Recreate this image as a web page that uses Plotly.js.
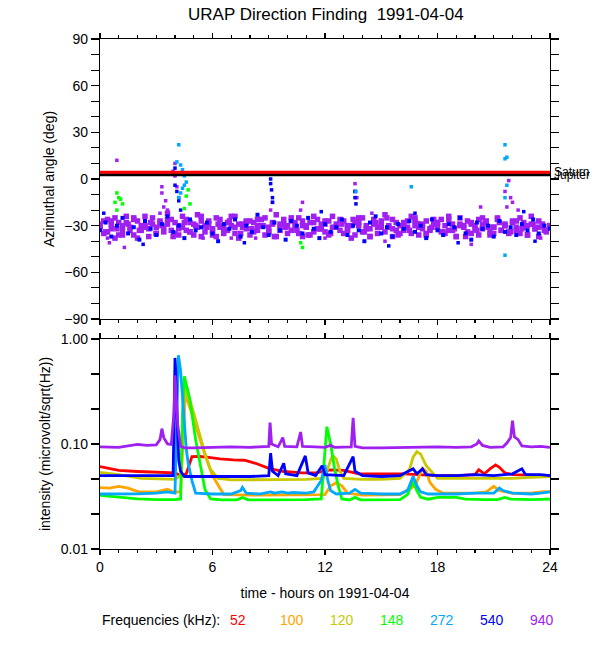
<!DOCTYPE html>
<html>
<head>
<meta charset="utf-8">
<script src="https://cdn.plot.ly/plotly-3.0.1.min.js"></script>
<style>html,body{margin:0;padding:0;background:#fff;}#chart{width:600px;height:650px;}</style>
</head>
<body>
<div id="chart"></div>
<script>
// ---------- Frequencies / colours ----------
const freqLabels = ['52', '100', '120', '148', '272', '540', '940'];
const freqColors = ['#FF0000', '#FFA500', '#C8C800', '#00FF00', '#00A8FF', '#0000FF', '#A020F0'];

// ---------- Top panel: azimuthal angle (deg) ----------
const tP = [0,0.2,0.4,0.6,0.8,1,1.2,1.4,1.6,1.8,2,2.2,2.4,2.6,2.8,3,3.2,3.4,3.6,3.8,
  4,4.2,4.4,4.6,4.8,5,5.2,5.4,5.6,5.8,6,6.2,6.4,6.6,6.8,7,7.2,7.4,7.6,7.8,
  8,8.2,8.4,8.6,8.8,9,9.2,9.4,9.6,9.8,10,10.2,10.4,10.6,10.8,11,11.2,11.4,11.6,11.8,
  12,12.2,12.4,12.6,12.8,13,13.2,13.4,13.6,13.8,14,14.2,14.4,14.6,14.8,15,15.2,15.4,15.6,15.8,
  16,16.2,16.4,16.6,16.8,17,17.2,17.4,17.6,17.8,18,18.2,18.4,18.6,18.8,19,19.2,19.4,19.6,19.8,
  20,20.2,20.4,20.6,20.8,21,21.2,21.4,21.6,21.8,22,22.2,22.4,22.6,22.8,23,23.2,23.4,23.6,23.8,24];
const az940a = [-31,-27,-34,-29,-25,-36,-30,-28,-33,-26,
  -38,-30,-24,-32,-29,-35,-27,-31,-22,-33,
  -28,-36,-31,-26,-34,-29,-23,-37,-30,-27,
  -33,-25,-31,-35,-28,-30,-24,-38,-29,-32,
  -27,-34,-30,-26,-36,-31,-28,-23,-33,-29,
  -35,-27,-31,-25,-37,-30,-28,-34,-26,-32,
  -29,-36,-24,-31,-33,-27,-30,-38,-28,-25,
  -34,-30,-32,-26,-35,-29,-23,-31,-37,-28,
  -30,-33,-27,-35,-25,-31,-29,-36,-32,-26,
  -28,-34,-30,-24,-33,-37,-29,-31,-27,-35,
  -30,-26,-32,-28,-36,-31,-25,-33,-29,-34,
  -27,-31,-35,-28,-30,-24,-32,-37,-29,-33,-31];
const az940b = [-29,-35,-26,-32,-38,-28,-33,-24,-31,-36,
  -27,-33,-30,-37,-25,-31,-28,-34,-29,-26,
  -35,-30,-24,-33,-28,-36,-31,-27,-34,-29,
  -32,-37,-26,-30,-33,-24,-35,-29,-31,-27,
  -36,-28,-33,-30,-25,-34,-29,-37,-31,-26,
  -30,-33,-28,-35,-27,-31,-36,-24,-32,-29,
  -34,-27,-31,-29,-26,-35,-33,-30,-36,-28,
  -25,-32,-37,-29,-31,-27,-34,-30,-26,-33,
  -35,-28,-31,-24,-30,-36,-32,-27,-33,-29,
  -31,-26,-35,-33,-29,-37,-25,-30,-34,-28,
  -32,-36,-29,-27,-34,-31,-26,-33,-30,-35,
  -28,-33,-25,-31,-36,-29,-32,-27,-30,-34,-30];
const tB = [0,0.3,0.6,0.9,1.2,1.5,1.8,2.1,2.4,2.7,3,3.3,3.6,3.9,4.2,4.5,4.8,5.1,5.4,5.7,
  6,6.3,6.6,6.9,7.2,7.5,7.8,8.1,8.4,8.7,9,9.3,9.6,9.9,10.2,10.5,10.8,11.1,11.4,11.7,
  12,12.3,12.6,12.9,13.2,13.5,13.8,14.1,14.4,14.7,15,15.3,15.6,15.9,16.2,16.5,16.8,17.1,17.4,17.7,
  18,18.3,18.6,18.9,19.2,19.5,19.8,20.1,20.4,20.7,21,21.3,21.6,21.9,22.2,22.5,22.8,23.1,23.4,23.7,24];
const az940c = [-30,-34,-27,-32,-36,-29,-25,-33,-31,-28,
  -35,-30,-26,-37,-32,-28,-34,-30,-24,-31,
  -36,-29,-33,-27,-31,-35,-28,-32,-26,-30,
  -34,-37,-29,-31,-25,-33,-30,-36,-28,-32,
  -27,-35,-31,-29,-33,-26,-30,-34,-37,-28,
  -31,-25,-32,-36,-29,-33,-27,-30,-35,-31,
  -28,-34,-26,-32,-30,-37,-29,-33,-25,-31,
  -35,-28,-30,-34,-27,-32,-36,-29,-31,-33,-30];
const az540 = [-33,-28,-37,-30,-25,-35,-31,-39,-27,-32,
  -36,-29,-24,-34,-30,-38,-26,-33,-31,-28,
  -35,-40,-29,-32,-26,-37,-30,-34,-23,-31,
  -36,-28,-33,-39,-27,-30,-35,-25,-32,-38,
  -29,-34,-31,-26,-36,-30,-33,-40,-28,-24,
  -35,-31,-37,-29,-32,-27,-34,-30,-38,-26,
  -33,-36,-29,-31,-25,-35,-39,-28,-32,-30,
  -37,-27,-34,-31,-36,-29,-33,-26,-35,-30,-32];
// scattered outliers
const t940o = [0.9,0.9,0.4,0.5,1.3,3.3,3.3,3.5,3.4,3.2,3.6,4.0,4.0,4.1,4.2,3.9,9.1,9.2,10.7,10.8,13.6,13.6,13.7,14.5,17.0,20.3,21.8,21.6,21.9,22.0,21.7,22.3,23.5,15.2,17.4,19.8,12.0,7.0,8.3,5.5];
const az940o = [12,4,-38,-41,-44,-5,-9,-14,-18,-22,-20,10,2,-5,-12,5,-20,-15,-20,-15,-3,-8,-12,-22,-28,-18,-1,-8,-12,-15,-18,-20,-38,-40,-38,-42,-38,-38,-38,-38];
const t540o = [4.0,3.9,4.0,4.1,4.2,4.3,9.1,9.1,9.15,9.2,9.2,13.6,13.6,13.65,2.3,7.7,15.4,19.1,23.2,11.8,16.8,22.6,0.2];
const az540o = [7,3,-4,-8,-14,-20,0,-3,-7,-12,-15,-8,-12,-16,-42,-41,-43,-41,-40,-21,-22,-21,-22];
const t272o = [4.2,4.1,4.3,4.4,4.5,4.6,4.4,4.3,4.5,4.2,16.6,21.6,21.6,21.7,21.7,21.6,21.6,13.65];
const az272o = [22,11,9,6,2,-2,-6,-9,-4,-12,-5,22,13,14,-4,-12,-49,-8];
const t148o = [0.9,1.0,0.8,1.2,0.9,1.1,4.6,4.8,4.7,4.5,10.7,10.8];
const az148o = [-9,-12,-15,-16,-20,-13,-11,-16,-7,-19,-41,-44];
// planet directions
const planetT = [0, 24];
const saturnAz = [4.3, 4.3];
const jupiterAz = [2.7, 2.7];

// ---------- Bottom panel: intensity ----------
const t52 = [0,0.5,1,2,3,4,4.3,4.6,4.9,5.3,5.7,6.4,7.1,7.7,8.3,9,9.8,10.8,11.5,12.3,13,13.8,15,16.2,17,18,19,20,20.2,20.5,20.8,21.1,21.3,21.6,22,24];
const v52 = [0.061,0.058,0.056,0.0547,0.054,0.053,0.05,0.052,0.0757,0.076,0.075,0.072,0.0706,0.070,0.0655,0.0587,0.0547,0.053,0.053,0.0566,0.056,0.052,0.052,0.052,0.051,0.050,0.050,0.051,0.057,0.052,0.058,0.0632,0.060,0.053,0.051,0.050];
const t100 = [0,0.5,1,1.5,2.1,3,3.6,3.9,4.3,4.45,4.55,4.8,5.1,5.4,5.7,6.0,6.3,6.6,8,10,11,12,12.3,12.6,12.9,13.2,14,15,16,16.8,17.2,17.4,17.6,17.9,18.3,19,20,20.6,21,21.3,22,23,23.5,24];
const v100 = [0.0384,0.038,0.0395,0.038,0.0349,0.035,0.037,0.035,0.035,0.15,0.3,0.22,0.15,0.1,0.07,0.05,0.04,0.033,0.0326,0.0326,0.033,0.033,0.04,0.0426,0.04,0.034,0.0326,0.033,0.033,0.04,0.0588,0.055,0.043,0.037,0.034,0.034,0.034,0.035,0.0395,0.036,0.034,0.034,0.035,0.0352];
const t120 = [0,1,2.2,3,4,4.3,4.45,4.6,4.8,5.1,5.4,5.65,5.9,6.3,7,9,10,11,11.9,12.1,12.3,12.4,12.6,12.8,13,14,15,16,16.5,16.7,16.9,17.1,17.4,17.7,18,19,20,21,22,23,24];
const v120 = [0.0536,0.051,0.047,0.0465,0.046,0.05,0.2,0.365,0.26,0.17,0.11,0.075,0.057,0.047,0.0455,0.0455,0.0455,0.046,0.047,0.055,0.07,0.078,0.072,0.055,0.047,0.046,0.046,0.047,0.057,0.075,0.0845,0.08,0.062,0.0545,0.047,0.047,0.047,0.047,0.047,0.048,0.049];
const t148 = [0,1,2,3,3.5,4,4.3,4.4,4.5,4.8,5.1,5.4,5.6,5.9,6.5,7.3,7.6,7.9,9,10,11,11.8,12,12.1,12.3,12.5,12.7,12.9,13.3,13.6,13.9,15,16,16.4,16.7,16.9,17.1,17.5,18,19,19.5,20.5,21.2,21.6,21.9,23,24];
const v148 = [0.0324,0.031,0.030,0.0295,0.0294,0.0295,0.03,0.2,0.44,0.26,0.11,0.057,0.0366,0.030,0.0294,0.0294,0.031,0.0294,0.0293,0.0293,0.0295,0.030,0.09,0.146,0.1,0.06,0.04,0.030,0.0293,0.031,0.0293,0.0293,0.0295,0.033,0.0437,0.036,0.031,0.0298,0.031,0.031,0.0298,0.0295,0.0295,0.031,0.0298,0.0295,0.0298];
const t272 = [0,1,2,3,3.6,4.0,4.1,4.18,4.3,4.45,4.6,4.7,4.9,5.1,6,7,7.5,7.6,7.8,8.5,9.1,9.3,9.7,10,10.3,11,11.4,11.8,12.0,12.15,12.3,12.6,13.3,13.6,13.9,15,16,16.4,16.7,16.9,17.1,17.5,19,20,21,21.3,21.5,22,23,23.5,24];
const v272 = [0.0334,0.0334,0.0335,0.034,0.035,0.034,0.2,0.70,0.5,0.2,0.09,0.066,0.045,0.034,0.0334,0.0334,0.036,0.0386,0.034,0.0334,0.035,0.034,0.035,0.034,0.0345,0.034,0.035,0.045,0.0632,0.045,0.036,0.0334,0.034,0.037,0.034,0.0334,0.0334,0.036,0.0489,0.04,0.035,0.0334,0.0334,0.034,0.034,0.038,0.036,0.034,0.0334,0.034,0.035];
const t540 = [0,2,3.9,4.0,4.05,4.1,4.2,4.3,4.5,6,8,9.0,9.1,9.2,9.5,9.8,9.9,10.5,10.95,11.1,11.5,11.85,12.0,13.0,13.5,13.6,14,15,16,16.7,16.9,17.2,17.4,18,19,20,21,22,22.5,22.7,23.5,24];
const v540 = [0.050,0.050,0.050,0.66,0.45,0.2,0.07,0.055,0.049,0.049,0.049,0.050,0.082,0.055,0.050,0.0655,0.052,0.050,0.077,0.053,0.050,0.062,0.051,0.050,0.0757,0.055,0.050,0.049,0.050,0.058,0.052,0.058,0.051,0.050,0.050,0.051,0.050,0.052,0.058,0.051,0.051,0.050];
const t940 = [0,1,1.5,2,2.5,3,3.2,3.3,3.4,3.6,3.8,3.95,4.0,4.05,4.15,4.3,4.5,5,6,7,8,9.0,9.07,9.15,9.5,9.75,9.85,10.5,10.7,10.8,11.5,12,12.3,12.5,13.4,13.5,13.6,14,15,16,17,18,19,19.8,20.1,20.2,20.4,20.8,21.5,21.7,21.9,22.0,22.1,22.3,22.5,23,23.5,24];
const v940 = [0.094,0.093,0.096,0.099,0.097,0.098,0.11,0.14,0.115,0.10,0.099,0.2,0.45,0.3,0.15,0.095,0.092,0.092,0.093,0.094,0.093,0.095,0.16,0.10,0.094,0.115,0.095,0.094,0.13,0.095,0.094,0.093,0.097,0.093,0.094,0.177,0.095,0.092,0.092,0.093,0.093,0.094,0.093,0.094,0.10,0.107,0.097,0.093,0.094,0.102,0.115,0.167,0.117,0.11,0.096,0.094,0.095,0.093];

const hourTicks = [0, 6, 12, 18, 24];
const azTicks = [-90, -60, -30, 0, 30, 60, 90];
const intTickVals = [0.01, 0.1, 1];
const intTickText = ['0.01', '0.10', '1.00'];
const intMinorVals = [0.02154, 0.04642, 0.2154, 0.4642];

// ---------- traces ----------
const FONT = 'Liberation Sans, Arial, Helvetica, sans-serif';
function pts(x, y, color, size) {
  return {x: x, y: y, xaxis: 'x', yaxis: 'y', type: 'scatter', mode: 'markers',
    marker: {color: color, size: size || 3.5, symbol: 'square', line: {width: 0}},
    hoverinfo: 'skip', showlegend: false, cliponaxis: true};
}
function line(x, y, color) {
  return {x: x, y: y, xaxis: 'x2', yaxis: 'y2', type: 'scatter', mode: 'lines',
    line: {color: color, width: 2.8}, hoverinfo: 'skip', showlegend: false};
}
const traces = [
  pts(tP, az940a, freqColors[6], 5.5),
  pts(tP, az940b, freqColors[6], 5.5),
  pts(tB, az940c, freqColors[6], 5.5),
  pts(t940o, az940o, freqColors[6], 3.5),
  pts(tB, az540, freqColors[5], 4),
  pts(t540o, az540o, freqColors[5], 3.5),
  pts(t272o, az272o, freqColors[4], 3.5),
  pts(t148o, az148o, freqColors[3], 3.5),
  {x: planetT, y: jupiterAz, xaxis: 'x', yaxis: 'y', type: 'scatter', mode: 'lines',
    line: {color: '#000000', width: 3}, hoverinfo: 'skip', showlegend: false},
  {x: planetT, y: saturnAz, xaxis: 'x', yaxis: 'y', type: 'scatter', mode: 'lines',
    line: {color: '#FF0000', width: 3}, hoverinfo: 'skip', showlegend: false},
  line(t52, v52, freqColors[0]),
  line(t100, v100, freqColors[1]),
  line(t120, v120, freqColors[2]),
  line(t148, v148, freqColors[3]),
  line(t272, v272, freqColors[4]),
  line(t540, v540, freqColors[5]),
  line(t940, v940, freqColors[6])
];

// ---------- layout ----------
const axCommon = {showline: true, linecolor: '#000', linewidth: 1.2, mirror: 'allticks',
  ticks: 'outside', tickcolor: '#000', tickwidth: 1.2, showgrid: false, zeroline: false,
  tickfont: {family: FONT, size: 14, color: '#000'}};

const annotations = [
  {text: 'Saturn', xref: 'paper', yref: 'y', x: 1.004, y: saturnAz[0], xanchor: 'left', yanchor: 'middle',
    showarrow: false, font: {family: FONT, size: 12, color: '#000'}},
  {text: 'Jupiter', xref: 'paper', yref: 'y', x: 1.004, y: jupiterAz[0], xanchor: 'left', yanchor: 'middle',
    showarrow: false, font: {family: FONT, size: 12, color: '#000'}},
  {text: 'Frequencies (kHz):', xref: 'paper', yref: 'paper', x: 0.0, y: -0.139, xanchor: 'left', yanchor: 'middle',
    showarrow: false, font: {family: FONT, size: 14, color: '#000'}}
];
const legendX = [238, 292, 342, 392, 442, 492, 542];
freqLabels.forEach(function (lab, i) {
  annotations.push({text: lab, xref: 'paper', yref: 'paper', x: (legendX[i] - 100) / 450, y: -0.139,
    xanchor: 'center', yanchor: 'middle', showarrow: false,
    font: {family: FONT, size: 14, color: freqColors[i]}});
});

const layout = {
  width: 600, height: 650,
  margin: {l: 100, r: 50, t: 39, b: 101},
  paper_bgcolor: '#fff', plot_bgcolor: '#fff',
  font: {family: FONT, color: '#000'},
  title: {text: 'URAP Direction Finding  1991-04-04', x: 0.543, xanchor: 'center', y: 0.979, yanchor: 'middle',
    font: {family: FONT, size: 17, color: '#000'}},
  xaxis: Object.assign({}, axCommon, {domain: [0, 1], anchor: 'y', range: [0, 24], tickvals: hourTicks,
    showticklabels: false, ticklen: 5, minor: {dtick: 1, tick0: 0, ticklen: 3, ticks: 'outside', tickcolor: '#000'}}),
  yaxis: Object.assign({}, axCommon, {domain: [0.451, 1], anchor: 'x', range: [-90, 90], tickvals: azTicks,
    ticklen: 8, minor: {dtick: 10, tick0: 0, ticklen: 8, ticks: 'outside', tickcolor: '#000'},
    title: {text: 'Azimuthal angle (deg)', standoff: 6, font: {family: FONT, size: 14, color: '#000'}}}),
  xaxis2: Object.assign({}, axCommon, {domain: [0, 1], anchor: 'y2', range: [0, 24], tickvals: hourTicks,
    ticklen: 5, minor: {dtick: 1, tick0: 0, ticklen: 3, ticks: 'outside', tickcolor: '#000'},
    title: {text: 'time - hours on 1991-04-04', standoff: 14, font: {family: FONT, size: 14, color: '#000'}}}),
  yaxis2: Object.assign({}, axCommon, {domain: [0, 0.4118], anchor: 'x2', type: 'log', range: [-2, 0],
    tickvals: intTickVals, ticktext: intTickText, ticklen: 8,
    minor: {tickmode: 'array', tickvals: intMinorVals, ticklen: 8, ticks: 'outside', tickcolor: '#000'},
    title: {text: 'intensity (microvolt/sqrt(Hz))', standoff: 6, font: {family: FONT, size: 14, color: '#000'}}}),
  annotations: annotations
};

Plotly.newPlot('chart', traces, layout, {staticPlot: true, displayModeBar: false});
</script>
</body>
</html>
